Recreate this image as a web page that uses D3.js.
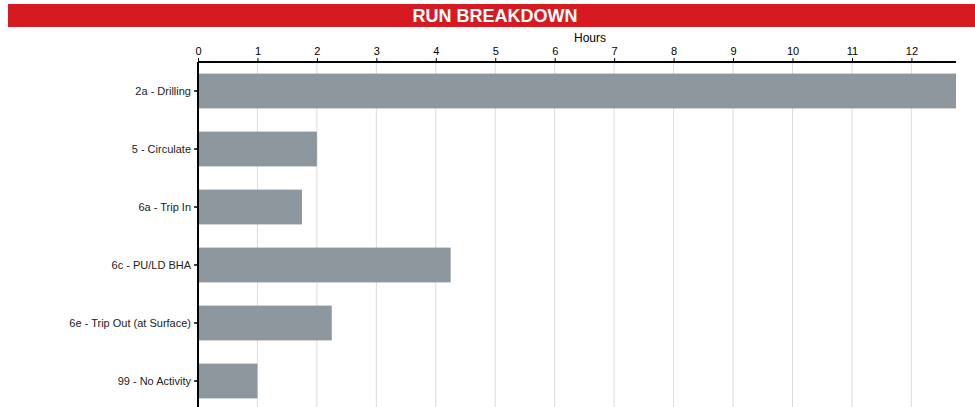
<!DOCTYPE html>
<html>
<head>
<meta charset="utf-8">
<script src="https://cdn.jsdelivr.net/npm/d3@7"></script>
<style>
  body { margin: 0; background: #fff; }
  svg { display: block; font-family: "Liberation Sans", Arial, sans-serif; }
</style>
</head>
<body>
<svg id="chart" width="975" height="407"></svg>
<script>
// Activity categories and hours spent on each during the run
const categories = [
  "2a - Drilling",
  "5 - Circulate",
  "6a - Trip In",
  "6c - PU/LD BHA",
  "6e - Trip Out (at Surface)",
  "99 - No Activity"
];
const hours = [12.75, 2.0, 1.75, 4.25, 2.25, 1.0];
const hourTicks = [0, 1, 2, 3, 4, 5, 6, 7, 8, 9, 10, 11, 12];

const svg = d3.select("#chart");
const W = 975;

// Title banner
svg.append("rect")
  .attr("x", 8).attr("y", 4).attr("width", W - 8).attr("height", 23)
  .attr("fill", "#d71a21");
svg.append("text")
  .attr("x", 495).attr("y", 16)
  .attr("text-anchor", "middle").attr("dominant-baseline", "central")
  .attr("fill", "#fff").attr("font-weight", "bold").attr("font-size", 18)
  .text("RUN BREAKDOWN");

const plotLeft = 198, plotRight = 956, plotTop = 62;

const x = d3.scaleLinear().domain([0, d3.max(hours)]).range([plotLeft, plotRight]);
const y = d3.scaleBand().domain(categories).range([plotTop, plotTop + 6 * 58])
  .paddingInner(0.4).paddingOuter(0.2);

// Vertical grid lines
svg.append("g").selectAll("line").data(hourTicks.slice(1)).join("line")
  .attr("x1", d => x(d)).attr("x2", d => x(d))
  .attr("y1", plotTop).attr("y2", 407)
  .attr("stroke", "#dcdcdc").attr("stroke-width", 1);

// Bars
svg.append("g").selectAll("rect").data(categories).join("rect")
  .attr("x", x(0))
  .attr("y", d => y(d))
  .attr("width", (d, i) => x(hours[i]) - x(0))
  .attr("height", y.bandwidth())
  .attr("fill", "#8e979e");

// Top axis
const xAxis = svg.append("g")
  .attr("transform", `translate(0,${plotTop})`)
  .call(d3.axisTop(x).tickValues(hourTicks).tickFormat(d3.format("d")).tickSize(4).tickPadding(3));
xAxis.select(".domain").attr("stroke", "#000").attr("stroke-width", 2)
  .attr("d", `M${plotLeft},0H${plotRight}`);
xAxis.selectAll(".tick line").attr("stroke", "#000");
xAxis.selectAll("text").attr("font-size", 11).attr("fill", "#000")
  .attr("font-family", "'Liberation Sans', Arial, sans-serif");

svg.append("text")
  .attr("x", 590).attr("y", 38)
  .attr("text-anchor", "middle").attr("dominant-baseline", "central")
  .attr("font-size", 12).attr("fill", "#000")
  .text("Hours");

// Left axis
const yAxis = svg.append("g")
  .attr("transform", `translate(${plotLeft},0)`)
  .call(d3.axisLeft(y).tickSize(4).tickPadding(3));
yAxis.select(".domain").attr("stroke", "#000").attr("stroke-width", 2)
  .attr("d", `M0,${plotTop}V407`);
yAxis.selectAll(".tick line").attr("stroke", "#000").attr("stroke-width", 1.5);
yAxis.selectAll("text").attr("font-size", 11).attr("fill", "#222")
  .attr("font-family", "'Liberation Sans', Arial, sans-serif");
</script>
</body>
</html>
